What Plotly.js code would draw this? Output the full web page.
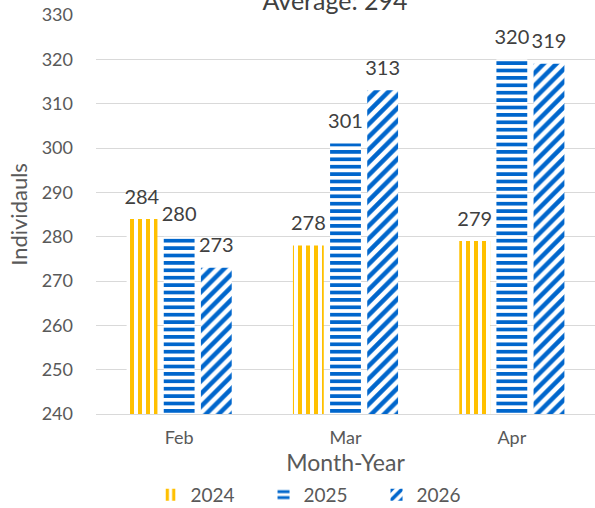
<!DOCTYPE html>
<html>
<head>
<meta charset="utf-8">
<script src="https://cdn.plot.ly/plotly-3.0.1.min.js"></script>
<style>html,body{margin:0;padding:0;background:#fff;}#chart{width:595px;height:508px;}</style>
</head>
<body>
<div id="chart"></div>
<script>
const categories = ["Feb", "Mar", "Apr"];
const seriesNames = ["2024", "2025", "2026"];
const values2024 = [284, 278, 279];
const values2025 = [280, 301, 320];
const values2026 = [273, 313, 319];
const yTicks = [240, 250, 260, 270, 280, 290, 300, 310, 320, 330];
const titleText = "Average: 294";

const font = "Lato, 'Liberation Sans', sans-serif";
const yellow = "#FFC000";
const blue = "#0066CC";

function barTrace(name, vals, color, shape, size) {
  return {
    type: "bar",
    name: name,
    x: categories,
    y: vals,
    text: vals.map(String),
    texttemplate: "<span style='font-size:20px'>%{text}</span><br> ",
    textposition: "outside",
    constraintext: "none",
    cliponaxis: false,
    textfont: {family: font, size: 8, color: "#404040"},
    marker: {
      color: "#ffffff",
      line: {width: 0},
      pattern: {shape: shape, fgcolor: color, bgcolor: "#ffffff", fgopacity: 1, size: size, solidity: 0.5, fillmode: "replace"}
    },
    hoverinfo: "skip"
  };
}

const data = [
  barTrace(seriesNames[0], values2024, yellow, "|", 8),
  barTrace(seriesNames[1], values2025, blue, "-", 7.4),
  barTrace(seriesNames[2], values2026, blue, "/", 9)
];

const layout = {
  width: 595,
  height: 508,
  margin: {l: 96, r: 0, t: 15, b: 94, autoexpand: false},
  paper_bgcolor: "#ffffff",
  plot_bgcolor: "#ffffff",
  font: {family: font, color: "#595959"},
  title: {
    text: titleText,
    font: {family: font, size: 25, color: "#404040"},
    x: 0.563, xanchor: "center", xref: "container",
    y: 0.997, yanchor: "middle", yref: "container"
  },
  barmode: "group",
  bargap: 0.33,
  bargroupgap: 0.17,
  showlegend: true,
  legend: {
    orientation: "h",
    xref: "container", yref: "container",
    x: 0.253, xanchor: "left",
    y: 0.026, yanchor: "middle",
    font: {family: font, size: 19, color: "#595959"},
    traceorder: "normal",
    itemwidth: 30,
    entrywidth: 68
  },
  xaxis: {
    type: "category",
    showgrid: false,
    showline: true,
    linecolor: "#D9D9D9",
    linewidth: 1,
    ticks: "",
    ticklabelstandoff: 7,
    tickfont: {family: font, size: 18, color: "#595959"},
    title: {text: "Month-Year", font: {family: font, size: 23, color: "#595959"}, standoff: 21},
    fixedrange: true
  },
  yaxis: {
    range: [240, 330],
    tickvals: yTicks,
    ticktext: yTicks.map(String),
    showgrid: true,
    gridcolor: "#D9D9D9",
    gridwidth: 1,
    zeroline: false,
    showline: false,
    ticks: "",
    ticklabelstandoff: 22,
    tickfont: {family: font, size: 18, color: "#595959"},
    title: {text: "Individauls", font: {family: font, size: 22, color: "#595959"}, standoff: 7},
    fixedrange: true
  }
};

Plotly.newPlot("chart", data, layout, {displayModeBar: false, staticPlot: true});
</script>
</body>
</html>
